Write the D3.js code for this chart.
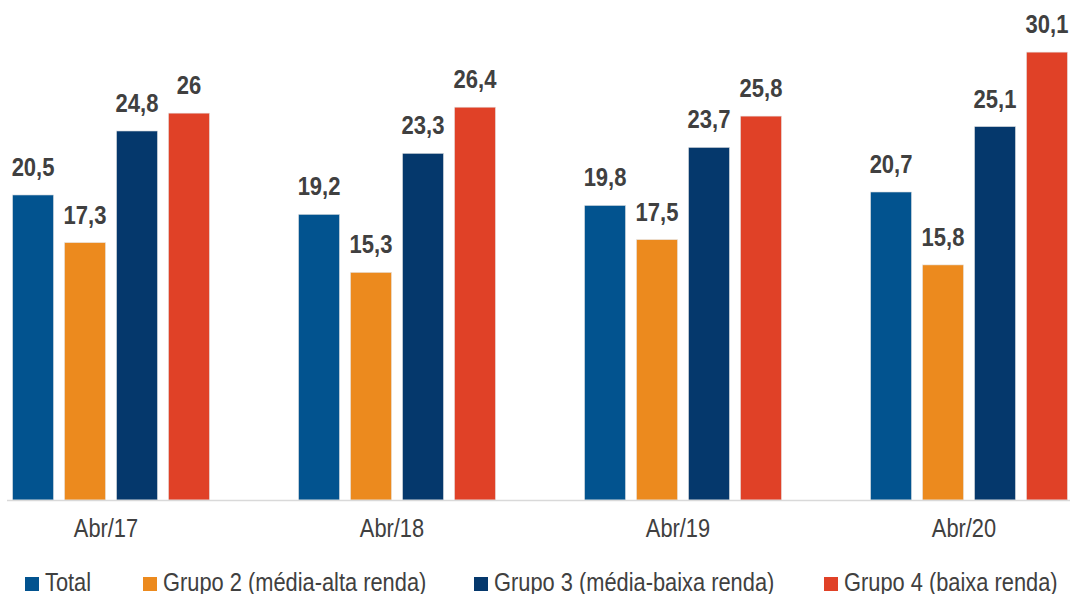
<!DOCTYPE html>
<html>
<head>
<meta charset="utf-8">
<script src="https://cdn.jsdelivr.net/npm/d3@7"></script>
<style>
  body { margin: 0; background: #fff; }
  svg { display: block; }
</style>
</head>
<body>
<div id="chart"></div>
<script>
var categories = ["Abr/17", "Abr/18", "Abr/19", "Abr/20"];
var seriesNames = ["Total", "Grupo 2 (média-alta renda)", "Grupo 3 (média-baixa renda)", "Grupo 4 (baixa renda)"];
var totalValues = [20.5, 19.2, 19.8, 20.7];
var grupo2Values = [17.3, 15.3, 17.5, 15.8];
var grupo3Values = [24.8, 23.3, 23.7, 25.1];
var grupo4Values = [26, 26.4, 25.8, 30.1];
var colors = ["#02538f", "#ec8a1e", "#05386c", "#e04127"];

var width = 1070, height = 594;
var baseY = 500;
// the original uses a narrow face; squeeze the installed sans horizontally
var narrow = 0.84, narrowBold = 0.88;

var svg = d3.select("#chart").append("svg").attr("width", width).attr("height", height);

var allSeries = [totalValues, grupo2Values, grupo3Values, grupo4Values];
var rows = categories.map(function(c, i) {
    return { cat: c, vals: allSeries.map(function(s, j) { return { key: seriesNames[j], v: s[i], idx: j }; }) };
});

var x0 = d3.scaleBand().domain(categories).range([-32, 1112]).padding(0);
var x1 = d3.scaleBand().domain(seriesNames).range([0, x0.bandwidth()]).paddingInner(0.21).paddingOuter(0.856);
var y = d3.scaleLinear().domain([0, 33]).range([baseY, baseY - 33 * 14.88]);

var fmt = function(v) { return String(v).replace(".", ","); };

var groups = svg.selectAll("g.grp").data(rows).enter().append("g")
    .attr("class", "grp")
    .attr("transform", function(d) { return "translate(" + x0(d.cat) + ",0)"; });

groups.selectAll("rect").data(function(d) { return d.vals; }).enter().append("rect")
    .attr("x", function(d) { return x1(d.key); })
    .attr("y", function(d) { return y(d.v); })
    .attr("width", x1.bandwidth())
    .attr("height", function(d) { return baseY - y(d.v); })
    .attr("fill", function(d) { return colors[d.idx]; })
    .attr("stroke", "#e6e6e6").attr("stroke-width", 0.6);

groups.selectAll("text.val").data(function(d) { return d.vals; }).enter().append("text")
    .attr("class", "val")
    .attr("transform", function(d) {
        return "translate(" + (x1(d.key) + x1.bandwidth() / 2) + "," + (y(d.v) - 19) + ") scale(" + narrowBold + ",1)";
    })
    .attr("text-anchor", "middle")
    .style("font-family", "'Liberation Sans', Arial, sans-serif")
    .style("font-weight", "bold")
    .style("font-size", "25px")
    .style("fill", "#404040")
    .text(function(d) { return fmt(d.v); });

// baseline axis
svg.append("line").attr("x1", 7).attr("x2", width).attr("y1", baseY + 0.5).attr("y2", baseY + 0.5)
    .attr("stroke", "#d9d9d9").attr("stroke-width", 1.5);

var xAxis = d3.axisBottom(x0).tickSize(0).tickPadding(0);
var axisG = svg.append("g").attr("transform", "translate(0," + baseY + ")").call(xAxis);
axisG.select(".domain").remove();
axisG.selectAll(".tick text")
    .attr("y", null).attr("dy", null)
    .attr("transform", "translate(-5,37) scale(" + narrow + ",1)")
    .style("font-family", "'Liberation Sans', Arial, sans-serif")
    .style("font-size", "26px")
    .style("fill", "#404040");

// legend
var legendX = [25, 143, 474, 824];
var leg = svg.selectAll("g.leg").data(seriesNames).enter().append("g")
    .attr("class", "leg")
    .attr("transform", function(d, i) { return "translate(" + legendX[i] + ",577)"; });
leg.append("rect").attr("width", 14).attr("height", 14)
    .attr("fill", function(d, i) { return colors[i]; });
leg.append("text")
    .attr("transform", "translate(20,14) scale(" + narrow + ",1)")
    .style("font-family", "'Liberation Sans', Arial, sans-serif")
    .style("font-size", "26px")
    .style("fill", "#404040")
    .text(function(d) { return d; });
</script>
</body>
</html>
